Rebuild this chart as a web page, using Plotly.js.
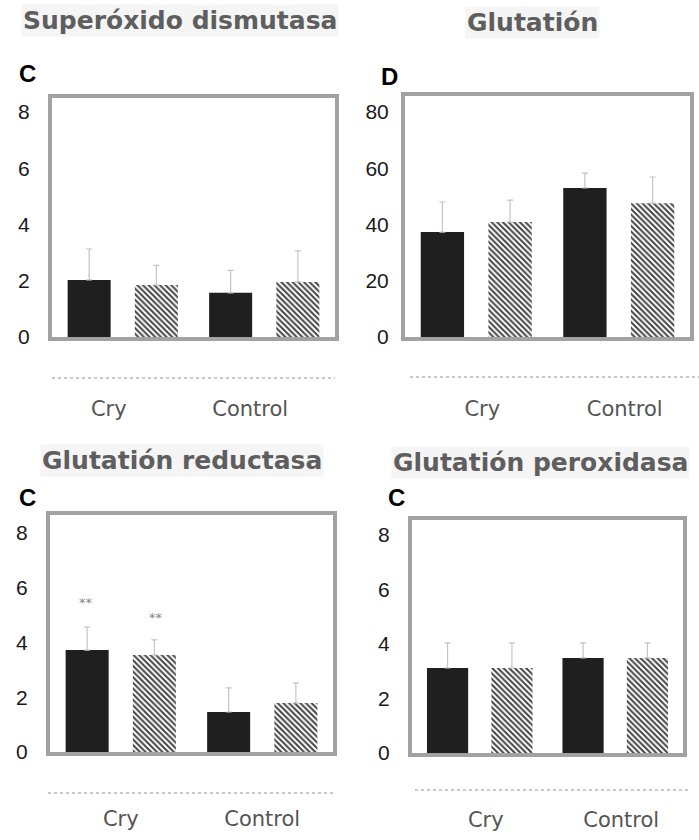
<!DOCTYPE html>
<html>
<head>
<meta charset="utf-8">
<script src="https://cdn.plot.ly/plotly-3.0.1.min.js"></script>
<style>html,body{margin:0;padding:0;background:#fff;}#chart{width:699px;height:840px;}</style>
</head>
<body>
<div id="chart"></div>
<script>
// ---- data ----
const categories = ["Cry", "Control"];
const panelTitles = ["Superóxido dismutasa", "Glutatión", "Glutatión reductasa", "Glutatión peroxidasa"];
const panelLetters = ["C", "D", "C", "C"];

const sodDark = [2.03, 1.57];
const sodDarkErr = [1.1, 0.8];
const sodGray = [1.85, 1.96];
const sodGrayErr = [0.7, 1.1];

const gshDark = [37.3, 53.0];
const gshDarkErr = [10.7, 5.3];
const gshGray = [40.9, 47.6];
const gshGrayErr = [7.8, 9.3];

const grDark = [3.72, 1.46];
const grDarkErr = [0.84, 0.88];
const grGray = [3.54, 1.79];
const grGrayErr = [0.55, 0.73];

const gpxDark = [3.12, 3.49];
const gpxDarkErr = [0.92, 0.55];
const gpxGray = [3.12, 3.49];
const gpxGrayErr = [0.92, 0.55];

const yTicks = [0, 2, 4, 6, 8];
const yTicksGsh = [0, 20, 40, 60, 80];
const signifText = ["**", "**"];
const signifY = [5.45, 4.9];

// ---- helpers ----
const W = 699, H = 840;
const px = v => v / W;
const py = v => 1 - v / H;

const darkColor = "#1f1f1f";

function errBar(arr) {
  return {type: "data", visible: true, array: arr, symmetric: false,
          arrayminus: arr.map(() => 0), color: "#c4c4c4", thickness: 1.2, width: 3};
}

function pair(xa, ya, dark, darkErr, gray, grayErr) {
  return [
    {type: "bar", x: categories, y: dark, xaxis: xa, yaxis: ya,
     marker: {color: darkColor, line: {width: 0}},
     error_y: errBar(darkErr), showlegend: false},
    {type: "bar", x: categories, y: gray, xaxis: xa, yaxis: ya,
     marker: {color: "#ffffff", line: {width: 0},
              pattern: {shape: "\\", fgcolor: "#444444", bgcolor: "#ffffff", size: 4, solidity: 0.5}},
     error_y: errBar(grayErr), showlegend: false}
  ];
}

const data = [].concat(
  pair("x", "y", sodDark, sodDarkErr, sodGray, sodGrayErr),
  pair("x2", "y2", gshDark, gshDarkErr, gshGray, gshGrayErr),
  pair("x3", "y3", grDark, grDarkErr, grGray, grGrayErr),
  pair("x4", "y4", gpxDark, gpxDarkErr, gpxGray, gpxGrayErr)
);

const frame = {showline: true, mirror: true, linecolor: "#a2a2a2", linewidth: 4,
               showgrid: false, zeroline: false, ticks: ""};

function xAxis(dom, anchor, shift, standoff) {
  return Object.assign({}, frame, {
    domain: dom, anchor: anchor, type: "category", range: [-0.5, 1.5],
    tickfont: {family: "DejaVu Sans", size: 21, color: "#555"},
    ticklabelstandoff: standoff, ticklabelshift: shift
  });
}
function yAxis(dom, anchor, range, ticks, standoff) {
  return Object.assign({}, frame, {
    domain: dom, anchor: anchor, range: range, tickvals: ticks,
    tickfont: {family: "Liberation Sans, Arial", size: 21, color: "#1a1a1a"},
    ticklabelstandoff: standoff
  });
}

const titleFont = {family: "DejaVu Sans", size: 25, color: "#5e5e5e", weight: "bold"};
const letterFont = {family: "Liberation Sans, Arial", size: 24, color: "#000"};

const titlePos = [[180, 20], [532, 22], [182, 460], [540, 462]];
const letterPos = [[27, 73], [390, 76], [27, 497], [396, 497]];

const annotations = [];
panelTitles.forEach((t, i) => annotations.push({
  text: t, xref: "paper", yref: "paper", x: px(titlePos[i][0]), y: py(titlePos[i][1]),
  xanchor: "center", yanchor: "middle", showarrow: false, font: titleFont, bgcolor: "#f5f5f5"
}));
panelLetters.forEach((t, i) => annotations.push({
  text: "<b>" + t + "</b>", xref: "paper", yref: "paper", x: px(letterPos[i][0]), y: py(letterPos[i][1]),
  xanchor: "center", yanchor: "middle", showarrow: false, font: letterFont
}));
signifText.forEach((t, i) => annotations.push({
  text: t, xref: "x3", yref: "y3", x: categories[0], y: signifY[i],
  xshift: i === 0 ? -35 : 35, showarrow: false,
  font: {family: "DejaVu Sans", size: 13, color: "#888"}
}));

function rule(x0, x1, y) {
  return {type: "line", xref: "paper", yref: "paper", x0: px(x0), x1: px(x1), y0: py(y), y1: py(y),
          line: {color: "#c8c8c8", width: 2, dash: "dot"}};
}

const layout = {
  width: W, height: H,
  margin: {l: 0, r: 0, t: 0, b: 0},
  paper_bgcolor: "#ffffff", plot_bgcolor: "#ffffff",
  barmode: "group", bargap: 0.05, bargroupgap: 0.36,
  showlegend: false,
  xaxis: xAxis([px(52), px(335)], "y", -14, 50),
  yaxis: yAxis([py(337), py(98)], "x", [0, 8.5], yTicks, 14),
  xaxis2: xAxis([px(405), px(690)], "y2", 6, 50),
  yaxis2: yAxis([py(337), py(96)], "x2", [0, 85.7], yTicksGsh, 8),
  xaxis3: xAxis([px(50), px(333)], "y3", 0, 45),
  yaxis3: yAxis([py(752), py(515)], "x3", [0, 8.65], yTicks, 14),
  xaxis4: xAxis([px(412), px(683)], "y4", 6, 45),
  yaxis4: yAxis([py(753), py(520)], "x4", [0, 8.55], yTicks, 14),
  annotations: annotations,
  shapes: [rule(52, 335, 378), rule(410, 699, 377), rule(48, 335, 793), rule(415, 690, 790)]
};

Plotly.newPlot("chart", data, layout, {staticPlot: true, displayModeBar: false});
</script>
</body>
</html>
